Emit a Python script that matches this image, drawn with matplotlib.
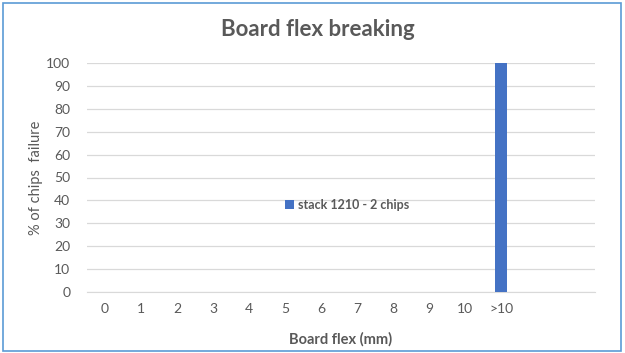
import matplotlib.pyplot as plt
from matplotlib.patches import Rectangle

# Data
categories = ["0", "1", "2", "3", "4", "5", "6", "7", "8", "9", "10", ">10"]
failure_pct = [0, 0, 0, 0, 0, 0, 0, 0, 0, 0, 0, 100]
series_name = "stack 1210 - 2 chips"

plt.rcParams["font.family"] = ["Lato", "DejaVu Sans"]
txt = "#595959"

fig = plt.figure(figsize=(6.25, 3.53), dpi=100)
ax = fig.add_axes([87 / 625, 1 - 292 / 353, 508 / 625, 229 / 353])

x = list(range(len(categories)))
ax.bar(x, failure_pct, width=0.34, color="#4472C4", label=series_name, zorder=3)

ax.set_xlim(-0.5, 13.6)
ax.set_ylim(0, 100)
ax.set_yticks(range(0, 101, 10))
ax.set_xticks(x)
ax.set_xticklabels(categories)
ax.tick_params(length=0, colors=txt, labelsize=10, pad=8)
ax.tick_params(axis="y", pad=12)
ax.grid(True, axis="y", color="#d9d9d9", linewidth=0.9, zorder=0)
for s in ["top", "right", "left"]:
    ax.spines[s].set_visible(False)
ax.spines["bottom"].set_color("#d9d9d9")

fig.text(0.508, 1 - 30 / 353, "Board flex breaking", fontsize=16, fontweight="bold",
         color=txt, ha="center", va="center")
ax.set_xlabel("Board flex (mm)", fontsize=10.5, fontweight="bold", color=txt, labelpad=12)
ax.set_ylabel("% of chips  failure", fontsize=10.5, color=txt, labelpad=2)

leg = ax.legend(loc="center", bbox_to_anchor=(0.512, 0.38), frameon=False,
                handlelength=0.7, handleheight=0.7, handletextpad=0.3,
                prop={"weight": "bold", "size": 9})
for t in leg.get_texts():
    t.set_color(txt)

fig.patches.append(Rectangle((0.004, 0.006), 0.99, 0.985, transform=fig.transFigure,
                             fill=False, edgecolor="#5B9BD5", linewidth=1.2))

fig.savefig("out.png", dpi=100)
